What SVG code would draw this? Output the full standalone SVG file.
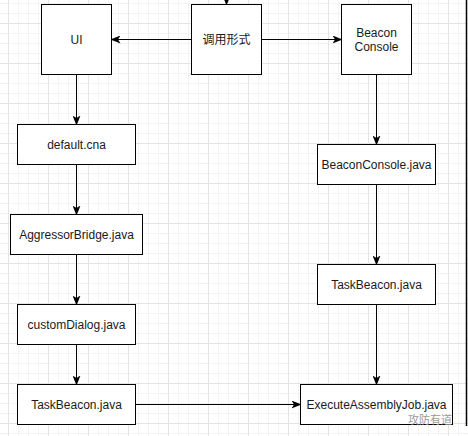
<svg xmlns="http://www.w3.org/2000/svg" width="468" height="436" viewBox="0 0 468 436">
<defs>
  <pattern id="minor" width="10" height="10" patternUnits="userSpaceOnUse" x="8" y="3">
    <path d="M0.5,0 V10 M0,0.5 H10" fill="none" stroke="#f3f3f3" stroke-width="1"/>
  </pattern>
  <pattern id="major" width="40" height="40" patternUnits="userSpaceOnUse" x="8" y="23">
    <path d="M0.5,0 V40 M0,0.5 H40" fill="none" stroke="#e4e4e4" stroke-width="1"/>
  </pattern>
  <marker id="arr" markerWidth="10" markerHeight="8" refX="9" refY="4" orient="auto" markerUnits="userSpaceOnUse">
    <path d="M0,0 L10,4 L0,8 L2.5,4 z" fill="#000"/>
  </marker>
  <style>
    .box { fill: #fff; stroke: #000; stroke-width: 1; }
    .lbl { font-family: "Liberation Sans", Arial, "Noto Sans CJK SC", sans-serif; font-size: 12px; fill: #1a1a1a; text-anchor: middle; dominant-baseline: central; }
    .edge { fill: none; stroke: #000; stroke-width: 1; marker-end: url(#arr); }
    .wm { font-family: "Noto Sans CJK SC", "Liberation Sans", sans-serif; font-size: 11px; fill: #9a9a9a; }
  </style>
</defs>
<rect width="468" height="436" fill="#fff"/>
<rect width="468" height="436" fill="url(#minor)"/>
<rect width="468" height="436" fill="url(#major)"/>
<line x1="466.5" y1="0" x2="466.5" y2="426" stroke="#000" stroke-width="1.5"/>

<g id="connectors">
  <path class="edge" d="M226.5,-6 V4.5"/>
  <path class="edge" d="M191.5,39.5 H111.5"/>
  <path class="edge" d="M261.5,39.5 H341.5"/>
  <path class="edge" d="M76.5,74.5 V124.5"/>
  <path class="edge" d="M76.5,164.5 V214.5"/>
  <path class="edge" d="M76.5,254.5 V304.5"/>
  <path class="edge" d="M76.5,344.5 V384.5"/>
  <path class="edge" d="M376.5,74.5 V144.5"/>
  <path class="edge" d="M376.5,184.5 V264.5"/>
  <path class="edge" d="M376.5,304.5 V384.5"/>
  <path class="edge" d="M135.5,404.5 H300.5"/>
</g>

<g id="ui">
  <rect class="box" x="41.5" y="4.5" width="70" height="70"/>
  <text class="lbl" x="76.5" y="39.5">UI</text>
</g>
<g id="call-form">
  <rect class="box" x="191.5" y="4.5" width="70" height="70"/>
  <text class="lbl" x="226.5" y="40">调用形式</text>
</g>
<g id="beacon-console">
  <rect class="box" x="341.5" y="4.5" width="70" height="70"/>
  <text class="lbl" x="376.5" y="33">Beacon</text>
  <text class="lbl" x="376.5" y="46.5">Console</text>
</g>
<g id="default-cna">
  <rect class="box" x="17.5" y="124.5" width="118" height="40"/>
  <text class="lbl" x="76.5" y="144.5">default.cna</text>
</g>
<g id="aggressor-bridge">
  <rect class="box" x="10.5" y="214.5" width="132" height="40"/>
  <text class="lbl" x="76.5" y="234.5">AggressorBridge.java</text>
</g>
<g id="custom-dialog">
  <rect class="box" x="17.5" y="304.5" width="118" height="40"/>
  <text class="lbl" x="76.5" y="324.5">customDialog.java</text>
</g>
<g id="task-beacon-left">
  <rect class="box" x="17.5" y="384.5" width="118" height="40"/>
  <text class="lbl" x="76.5" y="404.5">TaskBeacon.java</text>
</g>
<g id="beacon-console-java">
  <rect class="box" x="317.5" y="144.5" width="118" height="40"/>
  <text class="lbl" x="376.5" y="164.5">BeaconConsole.java</text>
</g>
<g id="task-beacon-right">
  <rect class="box" x="317.5" y="264.5" width="118" height="40"/>
  <text class="lbl" x="376.5" y="284.5">TaskBeacon.java</text>
</g>
<g id="execute-assembly-job">
  <rect class="box" x="300.5" y="384.5" width="152" height="40"/>
  <text class="lbl" x="376.5" y="404.5">ExecuteAssemblyJob.java</text>
</g>
<text class="wm" x="452" y="423.5" text-anchor="end">攻防有道</text>
</svg>
